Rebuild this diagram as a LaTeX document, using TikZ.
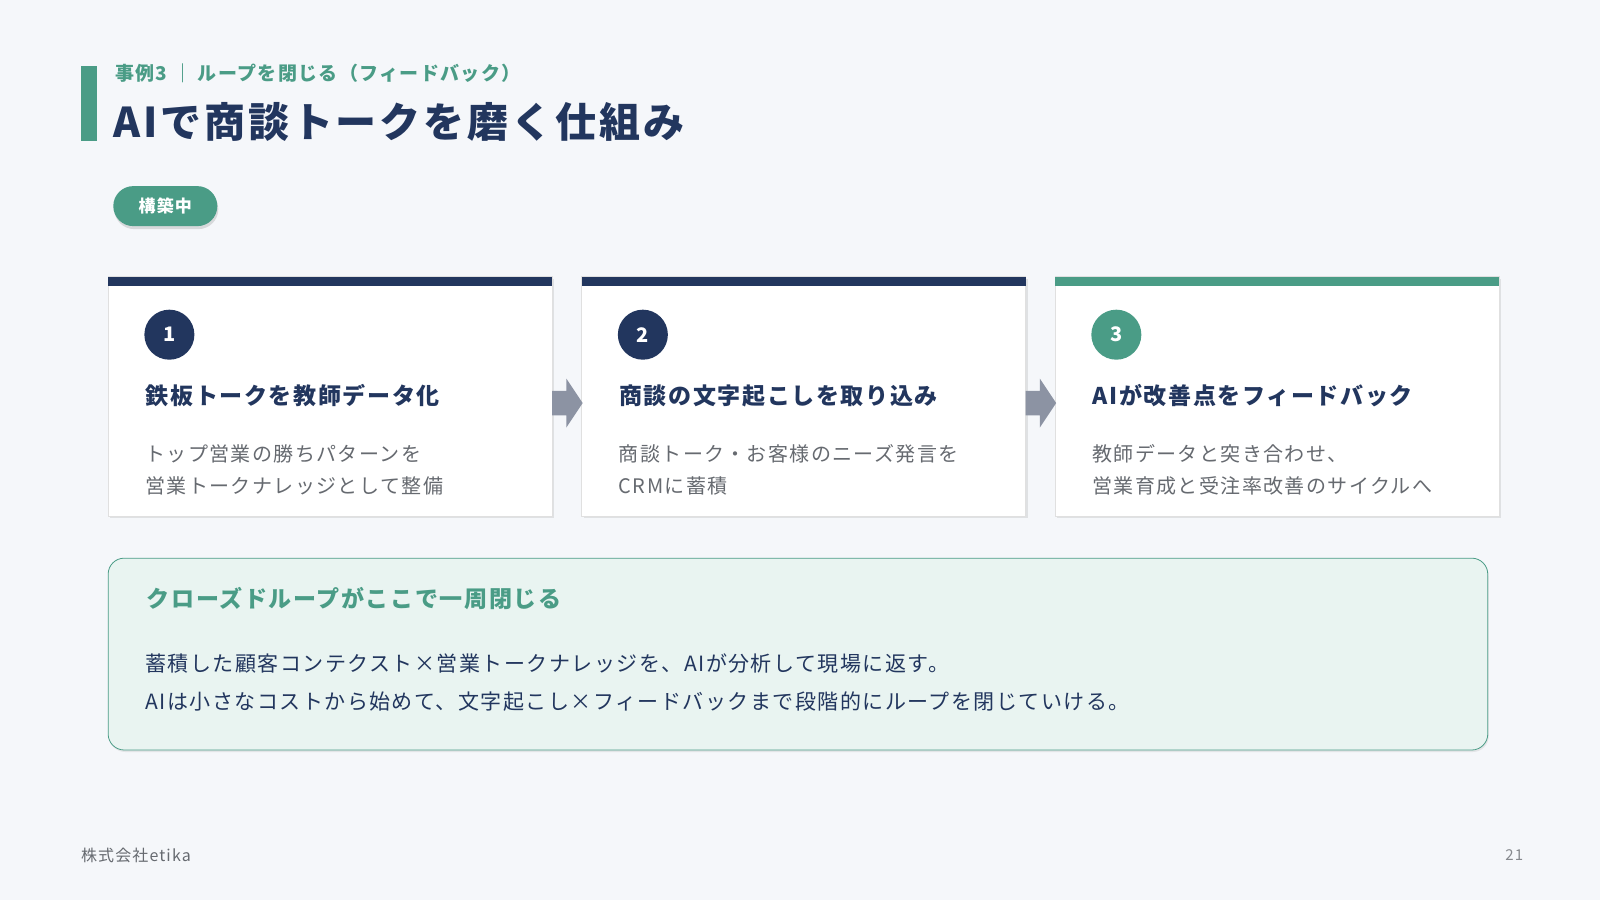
\documentclass[tikz,border=0pt]{standalone}
\usepackage{fontspec}
\setmainfont[LetterSpace=7]{Noto Sans CJK JP}
\usetikzlibrary{positioning,shapes,arrows,calc,shadows}
\definecolor{navy}{HTML}{22365E}
\definecolor{teal}{HTML}{4A9C86}
\definecolor{bgc}{HTML}{F5F7FA}
\definecolor{mint}{HTML}{E9F4F1}
\definecolor{txtgray}{HTML}{666A70}
\definecolor{arrgray}{HTML}{8C93A3}
\begin{document}
\begin{tikzpicture}
  [
    x=0.51pt, y=-0.51pt,
    card/.style={draw=black!12, fill=white, drop shadow={opacity=0.18,shadow xshift=1pt,shadow yshift=-1pt}},
    num/.style={circle, fill=#1, minimum size=25pt, inner sep=0pt, text=white, font=\bfseries\fontsize{10}{12}\selectfont},
    cardtitle/.style={anchor=west, text=navy, font=\bfseries\fontsize{11.5}{14}\selectfont},
    cardbody/.style={anchor=north west, align=left, text=txtgray, inner sep=0pt, font=\fontsize{10}{16.3}\selectfont},
  ]
  \useasboundingbox[fill=bgc] (0,0) rectangle (1568,882);

  % header
  \fill[teal] (79,65) rectangle (95,138);
  \node[anchor=west, text=teal, font=\bfseries\fontsize{9.5}{11}\selectfont] (sub) at (106,72) {事例3 ｜ ループを閉じる（フィードバック）};
  \node[anchor=west, text=navy, font=\bfseries\fontsize{20.5}{24}\selectfont] (title) at (104,120) {AIで商談トークを磨く仕組み};
  \node[rounded corners=10pt, fill=teal, text=white, minimum width=52pt, minimum height=20pt, font=\bfseries\fontsize{8.5}{10}\selectfont, drop shadow={opacity=0.25,shadow xshift=0.5pt,shadow yshift=-1.5pt}] (badge) at (162,202) {構築中};

  % cards
  \foreach \x/\col/\n/\ttl/\bodyA/\bodyB in {
      106/navy/1/鉄板トークを教師データ化/トップ営業の勝ちパターンを/営業トークナレッジとして整備,
      570/navy/2/商談の文字起こしを取り込み/商談トーク・お客様のニーズ発言を/CRMに蓄積,
      1034/teal/3/AIが改善点をフィードバック/教師データと突き合わせ、/営業育成と受注率改善のサイクルへ}
    {
     \path[card] (\x,271) rectangle ++(435,235);
     \fill[\col] (\x,271) rectangle ++(435,9);
     \node[num=\col] (n\n) at ($(\x,328)+(60,0)$) {\n};
     \node[cardtitle] (t\n) at ($(\x,388)+(30,0)$) {\ttl};
     \node[cardbody] (b\n) at ($(\x,435)+(36,0)$) {\bodyA\\\bodyB};
    }

  % arrows between cards
  \foreach \x in {541,1005}
    \fill[arrgray] (\x,383) -- ++(14,0) -- ++(0,-12) -- ++(16,24) -- ++(-16,24) -- ++(0,-12) -- ++(-14,0) -- cycle;

  % summary box
  \draw[teal, fill=mint, rounded corners=8pt, drop shadow={opacity=0.15,shadow xshift=0.5pt,shadow yshift=-1pt}] (106,547) rectangle (1458,735);
  \node[anchor=west, text=teal, font=\bfseries\fontsize{11.5}{14}\selectfont] (sumhead) at (137,587) {クローズドループがここで一周閉じる};
  \node[anchor=north west, align=left, inner sep=0pt, text=navy, font=\fontsize{10.5}{19}\selectfont] (sumbody) at (142,640) {蓄積した顧客コンテクスト×営業トークナレッジを、AIが分析して現場に返す。\\AIは小さなコストから始めて、文字起こし×フィードバックまで段階的にループを閉じていける。};

  % footer
  \node[anchor=west, inner sep=0pt, text=txtgray, font=\fontsize{8}{10}\selectfont] (corp) at (79,838) {株式会社etika};
  \node[anchor=east, inner sep=0pt, text=txtgray!80, font=\fontsize{7.5}{10}\selectfont] (page) at (1493,838) {21};
\end{tikzpicture}
\end{document}
